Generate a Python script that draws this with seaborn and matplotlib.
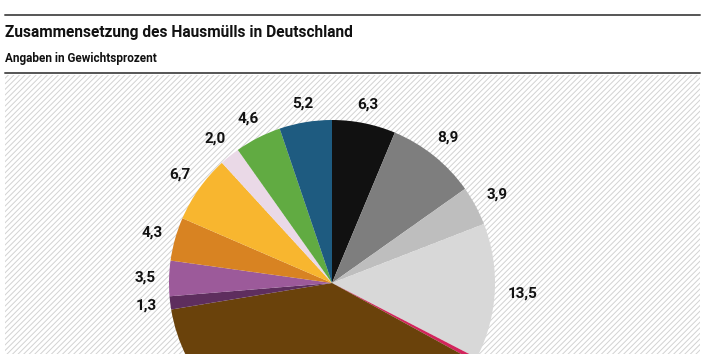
import numpy as np
import matplotlib.pyplot as plt
import seaborn as sns
from matplotlib.lines import Line2D
from matplotlib.patches import Rectangle

sns.set_theme(style="white")
plt.rcParams["font.family"] = ["Roboto", "DejaVu Sans"]
plt.rcParams["hatch.linewidth"] = 0.7

# Anteile im Uhrzeigersinn ab 12 Uhr
anteile = [6.3, 8.9, 3.9, 13.5, 0.4, 39.4, 1.3, 3.5, 4.3, 6.7, 2.0, 4.6, 5.2]
farben = [
    "#111111", "#7e7e7e", "#bebebe", "#d8d8d8", "#d2245c", "#6a420b",
    "#5e2e5e", "#9c5a9a", "#d88322", "#f8b62f", "#ead9e7", "#61ab42",
    "#1e5b80",
]
# die beiden unteren Beschriftungen liegen ausserhalb des Ausschnitts
sichtbar = [True, True, True, True, False, False, True, True, True, True,
            True, True, True]
beschriftung = [f"{v:.1f}".replace(".", ",") if s else ""
                for v, s in zip(anteile, sichtbar)]

W, H = 707, 354
fig = plt.figure(figsize=(W / 100, H / 100), dpi=100)

# Schraffierter Hintergrund
bg = fig.add_axes([5 / W, 0, 695 / W, (H - 75) / H])
bg.set_axis_off()
bg.add_patch(Rectangle((0, 0), 1, 1, transform=bg.transAxes, facecolor="white",
                       edgecolor="#d2d2d2", hatch="//////", lw=0))

# Linien und Titel
for y in (15, 73):
    fig.add_artist(Line2D([5 / W, 700 / W], [1 - y / H] * 2, color="#555555",
                          lw=1.4, transform=fig.transFigure))
fig.text(5 / W, 1 - 37 / H, "Zusammensetzung des Hausmülls in Deutschland",
         fontsize=11.2, fontweight="bold", va="baseline", color="#111111")
fig.text(5 / W, 1 - 62 / H, "Angaben in Gewichtsprozent",
         fontsize=8.5, fontweight="bold", va="baseline", color="#111111")

# Kreisdiagramm
cx, cy, r = 332, 283, 163
ax = fig.add_axes([(cx - r) / W, (H - cy - r) / H, 2 * r / W, 2 * r / H])
wedges, texts = ax.pie(anteile, colors=farben, labels=beschriftung,
                       startangle=90, counterclock=False, labeldistance=1.08,
                       wedgeprops=dict(lw=0),
                       textprops=dict(fontsize=11, fontweight="bold",
                                      color="#111111"))
ax.set_xlim(-1, 1)
ax.set_ylim(-1, 1)
ax.set_aspect("equal")
ax.set_axis_off()

# Beschriftung so verschieben, dass die Textbox knapp ausserhalb liegt
renderer = fig.canvas.get_renderer()
for t in texts:
    t.set_ha("center")
    t.set_va("center")
    bb = t.get_window_extent(renderer)
    x, y = t.get_position()
    ang = np.arctan2(y, x)
    ux, uy = np.cos(ang), np.sin(ang)
    d = 1.08 + 0.5 * (abs(ux) * bb.width + abs(uy) * 0.6 * bb.height) / r
    t.set_position((d * ux, d * uy))

fig.savefig("out.png", dpi=100)
